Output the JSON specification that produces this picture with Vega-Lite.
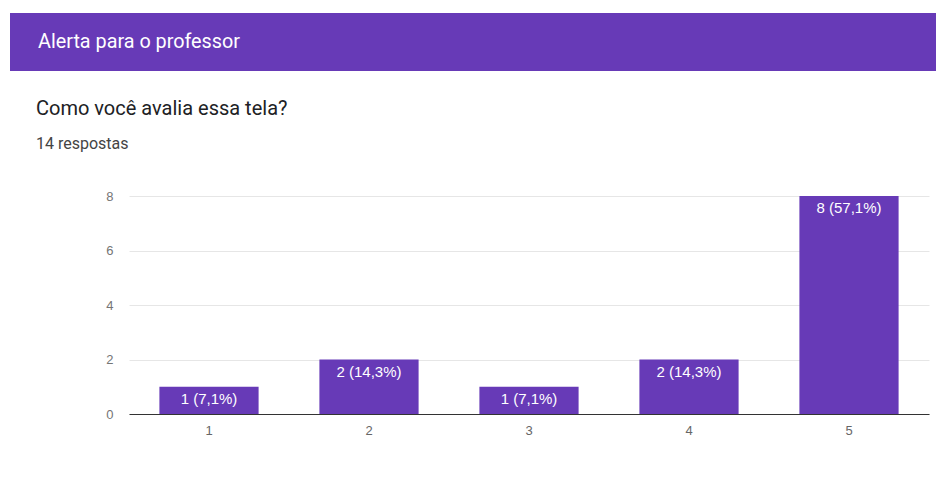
{
  "$schema": "https://vega.github.io/schema/vega-lite/v6.json",
  "background": "white",
  "padding": {"left": 10, "top": 13, "right": 0, "bottom": 0},
  "spacing": 28,
  "config": {"font": "Roboto", "view": {"stroke": null}},
  "vconcat": [
    {
      "width": 926,
      "height": 58,
      "view": {"fill": "#673ab7", "stroke": null},
      "data": {"values": [{"header": "Alerta para o professor"}]},
      "mark": {"type": "text", "align": "left", "baseline": "middle", "dx": 28, "color": "white", "fontSize": 19.8, "font": "Roboto"},
      "encoding": {
        "x": {"datum": 0, "type": "quantitative", "scale": {"domain": [0, 1]}, "axis": null},
        "text": {"field": "header"}
      }
    },
    {
      "width": 919,
      "height": 218,
      "title": {
        "text": "Como você avalia essa tela?",
        "subtitle": "14 respostas",
        "anchor": "start",
        "frame": "group",
        "dx": 26,
        "fontSize": 20,
        "fontWeight": "normal",
        "color": "#202124",
        "subtitleFontSize": 16,
        "subtitleColor": "#444444",
        "subtitlePadding": 17,
        "offset": 38
      },
      "data": {
        "values": [
          {"nota": "1", "respostas": 1, "rotulo": "1 (7,1%)"},
          {"nota": "2", "respostas": 2, "rotulo": "2 (14,3%)"},
          {"nota": "3", "respostas": 1, "rotulo": "1 (7,1%)"},
          {"nota": "4", "respostas": 2, "rotulo": "2 (14,3%)"},
          {"nota": "5", "respostas": 8, "rotulo": "8 (57,1%)"}
        ]
      },
      "encoding": {
        "x": {
          "field": "nota",
          "type": "ordinal",
          "scale": {"range": [119, 919], "paddingInner": 0.38, "paddingOuter": 0.19},
          "axis": {
            "title": null,
            "domain": true,
            "domainColor": "#333333",
            "domainWidth": 1,
            "ticks": false,
            "grid": false,
            "labelAngle": 0,
            "labelPadding": 10,
            "labelColor": "#666666",
            "labelFontSize": 13,
            "labelFont": "Liberation Sans"
          }
        }
      },
      "layer": [
        {
          "mark": {"type": "bar", "color": "#673ab7"},
          "encoding": {
            "y": {
              "field": "respostas",
              "type": "quantitative",
              "scale": {"domain": [0, 8]},
              "axis": {
                "title": null,
                "values": [0, 1, 2, 3, 4, 5, 6, 7, 8],
                "labelExpr": "datum.value % 2 === 0 ? datum.label : ''",
                "offset": -119,
                "domain": false,
                "ticks": false,
                "grid": true,
                "gridColor": {"condition": {"test": "datum.value % 2 === 1", "value": "#f4f4f4"}, "value": "#e6e6e6"},
                "labelPadding": 16,
                "labelColor": "#757575",
                "labelFontSize": 13,
                "labelFont": "Liberation Sans"
              }
            }
          }
        },
        {
          "mark": {"type": "text", "baseline": "top", "dy": 5, "color": "white", "fontSize": 15, "font": "Liberation Sans"},
          "encoding": {
            "y": {"field": "respostas", "type": "quantitative"},
            "text": {"field": "rotulo"}
          }
        }
      ]
    }
  ]
}
